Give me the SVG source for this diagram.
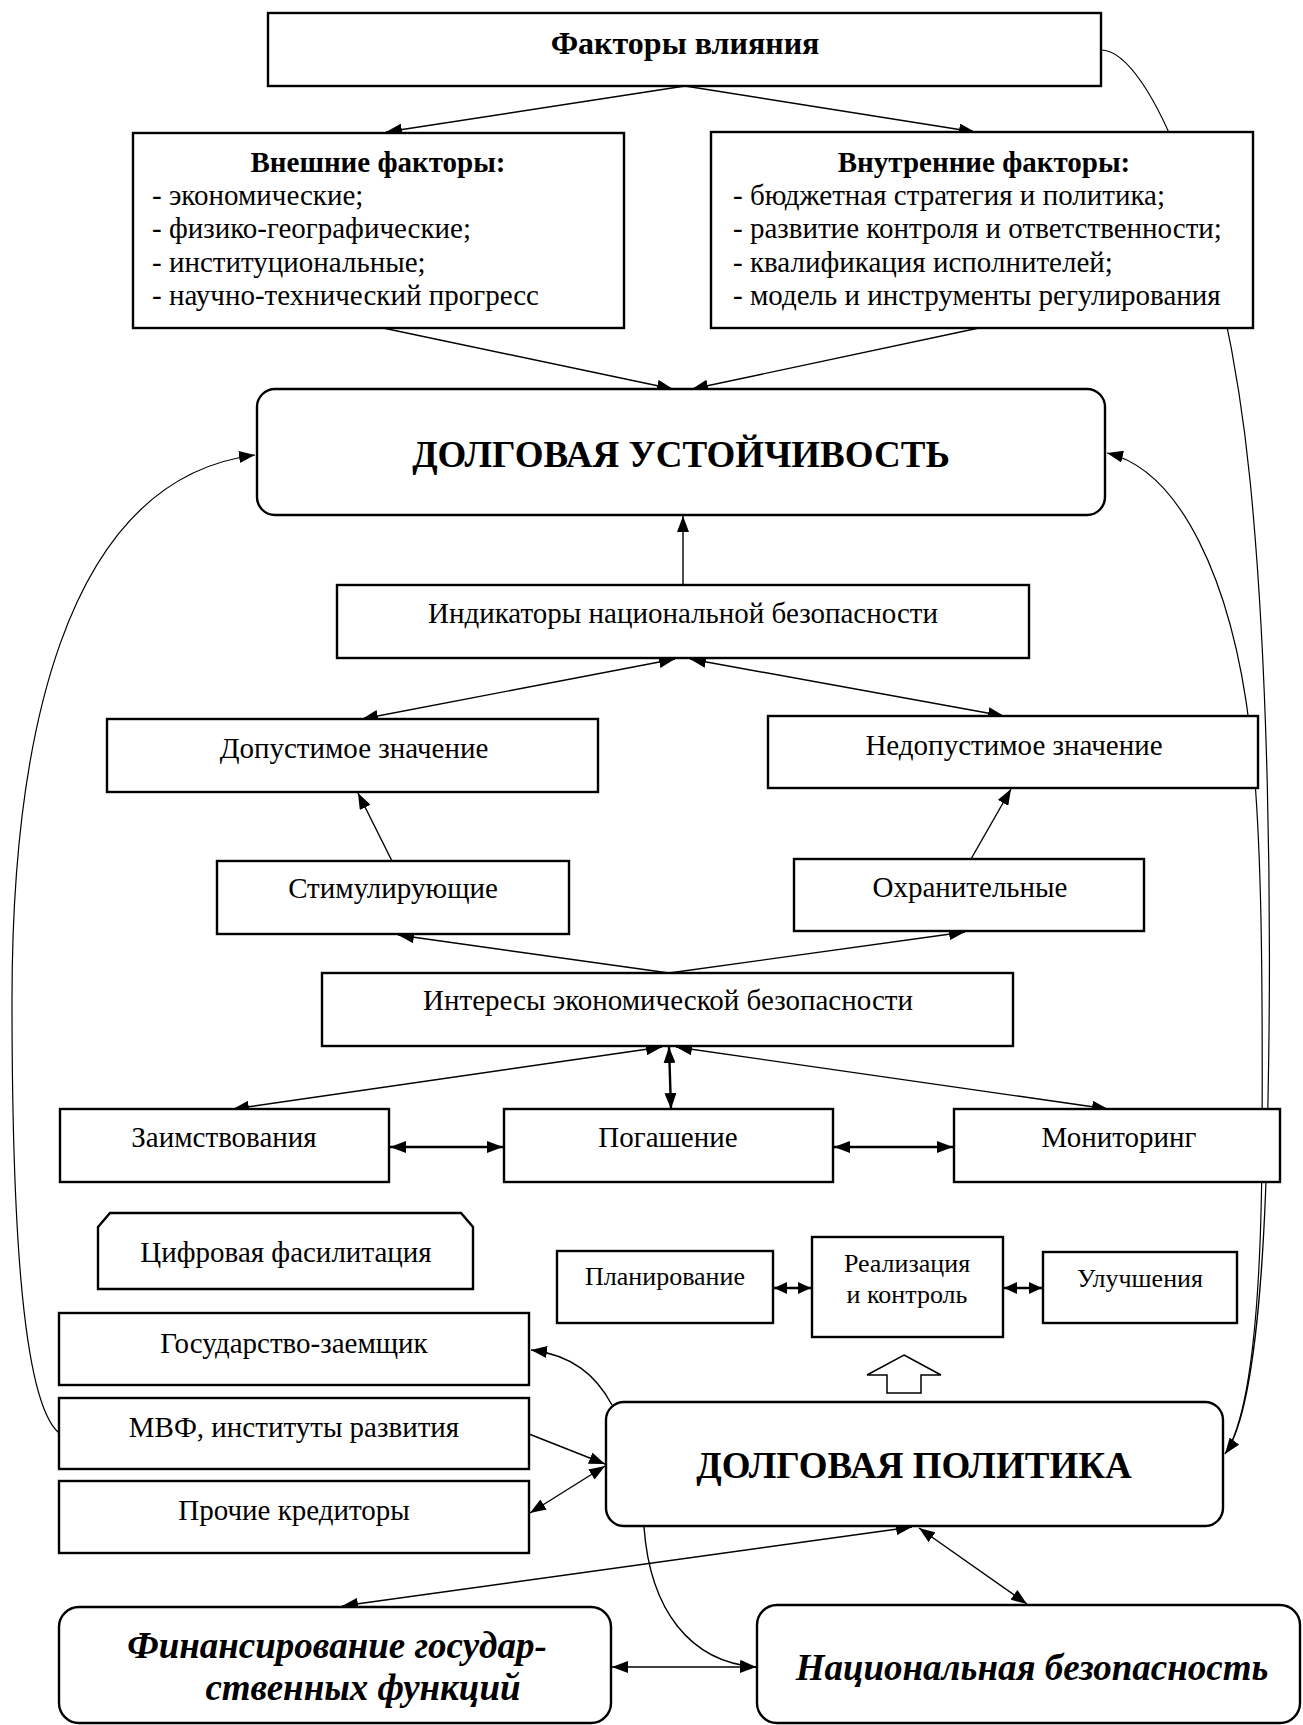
<svg xmlns="http://www.w3.org/2000/svg" width="1303" height="1725" viewBox="0 0 1303 1725">
<defs>
<style>
.box{fill:#fff;stroke:#000;stroke-width:2.4}
.t{font-family:"Liberation Serif","Times New Roman",serif;font-size:29px;fill:#000}
.m{text-anchor:middle}
.b{font-weight:bold}
.big{font-size:37px;font-weight:bold}
.bi{font-size:37px;font-weight:bold;font-style:italic}
.sm{font-size:26px}
.c{fill:none;stroke:#000;stroke-width:1.4}
.ct{fill:none;stroke:#000;stroke-width:1.2}
.cth{fill:none;stroke:#000;stroke-width:2.4}
</style>
<marker id="ah" markerUnits="userSpaceOnUse" markerWidth="16" markerHeight="12" refX="16" refY="6" orient="auto-start-reverse"><path d="M0,0 L16,6 L0,12 z" fill="#000"/></marker>
<marker id="as" markerUnits="userSpaceOnUse" markerWidth="13" markerHeight="12" refX="13" refY="6" orient="auto-start-reverse"><path d="M0,0 L13,6 L0,12 z" fill="#000"/></marker>
</defs>
<rect width="1303" height="1725" fill="#fff"/>
<g id="connectors">
<path class="ct" d="M59,1433 C20,1400 12,1200 12,1000 C12,750 60,480 255,455" marker-end="url(#ah)"/>
<path class="ct" d="M1101,50 C1150,50 1225,230 1250,480 C1268,660 1272,900 1268,1100 C1265,1300 1250,1420 1225,1454" marker-end="url(#ah)"/>
<path class="ct" d="M1225,1454 C1248,1420 1261,1320 1262,1150 C1263,950 1261,820 1250,730 C1232,580 1180,470 1107,453" marker-end="url(#ah)"/>
<line class="c" x1="685" y1="86" x2="386" y2="132" marker-end="url(#ah)"/>
<line class="c" x1="685" y1="86" x2="975" y2="132" marker-end="url(#ah)"/>
<line class="c" x1="383" y1="328" x2="673" y2="389" marker-end="url(#ah)"/>
<line class="c" x1="979" y1="328" x2="692" y2="389" marker-end="url(#ah)"/>
<line class="c" x1="683" y1="585" x2="683" y2="516" marker-end="url(#ah)"/>
<line class="c" x1="675" y1="659" x2="362" y2="719" marker-start="url(#ah)" marker-end="url(#ah)"/>
<line class="c" x1="690" y1="659" x2="1004" y2="716" marker-start="url(#ah)" marker-end="url(#ah)"/>
<line class="c" x1="392" y1="861" x2="358" y2="793" marker-end="url(#ah)"/>
<line class="c" x1="971" y1="859" x2="1011" y2="789" marker-end="url(#ah)"/>
<line class="c" x1="669" y1="973" x2="398" y2="935" marker-end="url(#ah)"/>
<line class="c" x1="669" y1="973" x2="965" y2="932" marker-end="url(#ah)"/>
<line class="c" x1="662" y1="1047" x2="233" y2="1109" marker-start="url(#ah)" marker-end="url(#ah)"/>
<line class="cth" x1="669" y1="1047" x2="671" y2="1109" marker-start="url(#ah)" marker-end="url(#ah)"/>
<line class="c" x1="676" y1="1047" x2="1108" y2="1109" marker-start="url(#ah)" marker-end="url(#ah)"/>
<line class="cth" x1="390" y1="1147" x2="503" y2="1147" marker-start="url(#ah)" marker-end="url(#ah)"/>
<line class="cth" x1="834" y1="1147" x2="953" y2="1147" marker-start="url(#ah)" marker-end="url(#ah)"/>
<line class="cth" x1="774" y1="1288" x2="811" y2="1288" marker-start="url(#as)" marker-end="url(#as)"/>
<line class="cth" x1="1004" y1="1288" x2="1042" y2="1288" marker-start="url(#as)" marker-end="url(#as)"/>
<path class="c" d="M612,1405 C596,1375 572,1355 531,1350" marker-end="url(#ah)"/>
<line class="c" x1="529" y1="1434" x2="605" y2="1464" marker-end="url(#ah)"/>
<line class="c" x1="530" y1="1513" x2="605" y2="1466" marker-start="url(#ah)" marker-end="url(#ah)"/>
<line class="c" x1="342" y1="1606" x2="912" y2="1527" marker-start="url(#ah)" marker-end="url(#ah)"/>
<line class="c" x1="919" y1="1528" x2="1027" y2="1604" marker-start="url(#ah)" marker-end="url(#ah)"/>
<line class="c" x1="612" y1="1667" x2="756" y2="1667" marker-start="url(#ah)" marker-end="url(#ah)"/>
<path class="c" d="M644,1527 C650,1610 690,1662 756,1667" marker-end="url(#ah)"/>
</g>
<g id="n-factors"><rect class="box" x="268" y="13" width="833" height="73"/><text class="t b m" x="685" y="54" style="font-size:32px">Факторы влияния</text></g>
<g id="n-external"><rect class="box" x="133" y="133" width="491" height="195"/>
<text class="t b m" x="378" y="172">Внешние факторы:</text>
<text class="t" x="152" y="205">- экономические;</text>
<text class="t" x="152" y="238">- физико-географические;</text>
<text class="t" x="152" y="272">- институциональные;</text>
<text class="t" x="152" y="305">- научно-технический прогресс</text></g>
<g id="n-internal"><rect class="box" x="711" y="132" width="542" height="196"/>
<text class="t b m" x="984" y="172">Внутренние факторы:</text>
<text class="t" x="733" y="205">- бюджетная стратегия и политика;</text>
<text class="t" x="733" y="238">- развитие контроля и ответственности;</text>
<text class="t" x="733" y="272">- квалификация исполнителей;</text>
<text class="t" x="733" y="305">- модель и инструменты регулирования</text></g>
<g id="n-sustain"><rect class="box" x="257" y="389" width="848" height="126" rx="18"/><text class="t big m" x="681" y="467">ДОЛГОВАЯ УСТОЙЧИВОСТЬ</text></g>
<g id="n-indicators"><rect class="box" x="337" y="585" width="692" height="73"/><text class="t m" x="683" y="623">Индикаторы национальной безопасности</text></g>
<g id="n-allowed"><rect class="box" x="107" y="719" width="491" height="73"/><text class="t m" x="354" y="758">Допустимое значение</text></g>
<g id="n-notallowed"><rect class="box" x="768" y="716" width="490" height="72"/><text class="t m" x="1014" y="755">Недопустимое значение</text></g>
<g id="n-stim"><rect class="box" x="217" y="861" width="352" height="73"/><text class="t m" x="393" y="898">Стимулирующие</text></g>
<g id="n-protect"><rect class="box" x="794" y="859" width="350" height="72"/><text class="t m" x="970" y="897">Охранительные</text></g>
<g id="n-interests"><rect class="box" x="322" y="973" width="691" height="73"/><text class="t m" x="668" y="1010">Интересы экономической безопасности</text></g>
<g id="n-borrow"><rect class="box" x="60" y="1109" width="329" height="73"/><text class="t m" x="224" y="1147">Заимствования</text></g>
<g id="n-repay"><rect class="box" x="504" y="1109" width="329" height="73"/><text class="t m" x="668" y="1147">Погашение</text></g>
<g id="n-monitor"><rect class="box" x="954" y="1109" width="326" height="73"/><text class="t m" x="1119" y="1147">Мониторинг</text></g>
<g id="n-digital"><path class="box" d="M98,1227 L110,1213 L461,1213 L473,1227 L473,1289 L98,1289 Z"/><text class="t m" x="286" y="1262">Цифровая фасилитация</text></g>
<g id="n-plan"><rect class="box" x="557" y="1251" width="216" height="72"/><text class="t sm m" x="665" y="1285">Планирование</text></g>
<g id="n-realize"><rect class="box" x="812" y="1237" width="191" height="100"/><text class="t sm m" x="907" y="1272">Реализация</text><text class="t sm m" x="907" y="1303">и контроль</text></g>
<g id="n-improve"><rect class="box" x="1043" y="1252" width="194" height="71"/><text class="t sm m" x="1140" y="1287">Улучшения</text></g>
<g id="n-state"><rect class="box" x="59" y="1313" width="470" height="72"/><text class="t m" x="294" y="1353">Государство-заемщик</text></g>
<g id="n-imf"><rect class="box" x="59" y="1398" width="470" height="71"/><text class="t m" x="294" y="1437">МВФ, институты развития</text></g>
<g id="n-other"><rect class="box" x="59" y="1481" width="470" height="72"/><text class="t m" x="294" y="1520">Прочие кредиторы</text></g>
<g id="n-hollow"><path d="M904,1355 L941,1375 L921,1375 L921,1393 L887,1393 L887,1375 L867,1375 Z" fill="#fff" stroke="#000" stroke-width="1.5"/></g>
<g id="n-policy"><rect class="box" x="606" y="1402" width="617" height="124" rx="18"/><text class="t big m" x="914" y="1478">ДОЛГОВАЯ ПОЛИТИКА</text></g>
<g id="n-finance"><rect class="box" x="59" y="1607" width="552" height="116" rx="20"/><text class="t bi m" x="337" y="1658">Финансирование государ-</text><text class="t bi m" x="363" y="1700">ственных функций</text></g>
<g id="n-security"><rect class="box" x="757" y="1605" width="543" height="118" rx="20"/><text class="t bi m" x="1032" y="1680">Национальная безопасность</text></g>
</svg>
